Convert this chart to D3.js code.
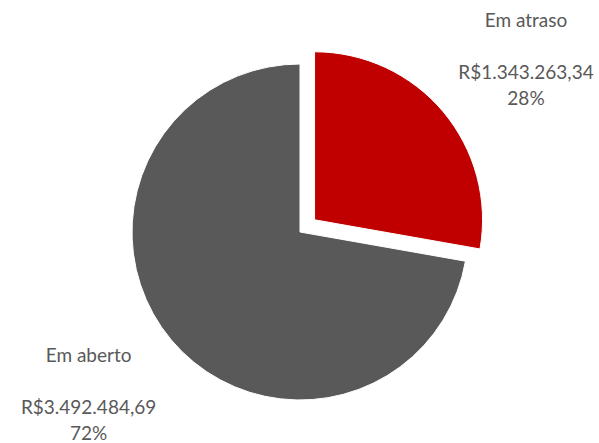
<!DOCTYPE html>
<html>
<head>
  <meta charset="utf-8">
  <script src="https://cdn.jsdelivr.net/npm/d3@7"></script>
  <style>
    body { margin: 0; background: #fff; overflow: hidden; }
    text { font-family: Lato, "Open Sans", sans-serif; fill: #595959; }
  </style>
</head>
<body>
<svg id="chart" width="599" height="443"></svg>
<script>
  // data
  var categories = ["Em atraso", "Em aberto"];
  var values = [1343263.34, 3492484.69];
  var colors = ["#C00000", "#595959"];
  var exploded = [true, false];

  var width = 599, height = 443;
  var cx = 300, cy = 232, radius = 168, explode = 19;
  var labelRx = 276, labelRy = 251;

  var svg = d3.select("#chart");

  var brl = d3.formatLocale({
    decimal: ",", thousands: ".", grouping: [3], currency: ["R$", ""]
  }).format("$,.2f");

  var pie = d3.pie().sort(null).value(function(d) { return d; });
  var arcs = pie(values);
  var total = d3.sum(values);

  var arc = d3.arc().innerRadius(0).outerRadius(radius);

  function midAngle(d) { return (d.startAngle + d.endAngle) / 2; }

  function offset(d, i) {
    if (!exploded[i]) return [0, 0];
    var a = midAngle(d);
    return [Math.sin(a) * explode, -Math.cos(a) * explode];
  }

  var g = svg.append("g").attr("transform", "translate(" + cx + "," + cy + ")");

  g.selectAll(".slice")
    .data(arcs)
    .enter().append("path")
    .attr("class", "slice")
    .attr("d", arc)
    .attr("transform", function(d, i) { var o = offset(d, i); return "translate(" + o[0] + "," + o[1] + ")"; })
    .style("fill", function(d, i) { return colors[i]; })
    .style("stroke", "#fff")
    .style("stroke-width", 1);

  var labels = g.selectAll(".label")
    .data(arcs)
    .enter().append("g")
    .attr("class", "label")
    .attr("transform", function(d, i) {
      var o = offset(d, i), a = midAngle(d);
      return "translate(" + (Math.sin(a) * labelRx + o[0]) + "," + (-Math.cos(a) * labelRy + o[1]) + ")";
    });

  labels.each(function(d, i) {
    var lines = [categories[i], brl(d.value), Math.round(d.value / total * 100) + "%"];
    var dys = [-39, 13, 39];
    d3.select(this).selectAll("text")
      .data(lines)
      .enter().append("text")
      .attr("text-anchor", "middle")
      .attr("dominant-baseline", "central")
      .attr("y", function(t, j) { return dys[j]; })
      .style("font-size", "19px")
      .text(function(t) { return t; });
  });
</script>
</body>
</html>
